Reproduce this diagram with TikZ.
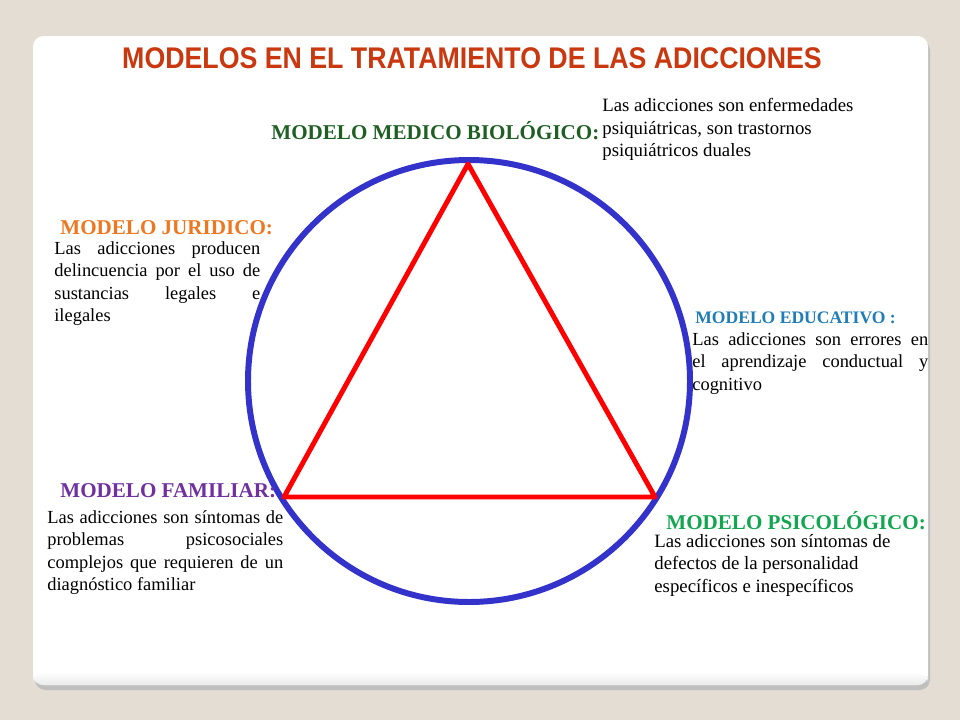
\documentclass[tikz,border=0pt]{standalone}
\usepackage{fontspec}
\setmainfont{Liberation Serif}
\newfontfamily\titlefont[FakeStretch=0.895]{Liberation Sans}
\definecolor{paper}{HTML}{E3DDD3}
\definecolor{titlered}{HTML}{C9380E}
\definecolor{medgreen}{HTML}{1F5F24}
\definecolor{juriorange}{HTML}{EE7720}
\definecolor{edublue}{HTML}{1F7DB8}
\definecolor{fampurple}{HTML}{7030A0}
\definecolor{psigreen}{HTML}{12A650}
\definecolor{ringblue}{HTML}{3333CC}
\newcommand{\nohyphens}{\hyphenpenalty=10000\relax\exhyphenpenalty=10000\relax}
\tikzset{
    model/.style = {font=\bfseries\fontsize{12}{14}\selectfont, inner sep=0pt, anchor=west},
    desc/.style = {font=\fontsize{10.7}{12.8}\selectfont\nohyphens, inner sep=0pt, anchor=north west},
    just/.style = {desc, font=\fontsize{10.5}{12.8}\selectfont\nohyphens, align=justify},
    ring/.style = {draw=ringblue, line width=3.4pt},
    tri/.style = {draw=red, line width=2.8pt, line join=round}
}

\begin{document}
\begin{tikzpicture}[x=0.02cm, y=-0.02cm]
                \fill[paper] (0,0) rectangle (960,720);
                \fill[black!25, rounded corners=6pt] (35,40) rectangle (930,690);
                \fill[white, rounded corners=6pt] (33,36) rectangle (928,685);
                \shade[top color=white, bottom color=black!8, rounded corners=6pt] (33,672) rectangle (928,685);
                \node[font=\titlefont\bfseries\fontsize{17}{20}\selectfont, text=titlered, inner sep=0pt] (title) at (472,58) {MODELOS EN EL TRATAMIENTO DE LAS ADICCIONES};
                % circle and triangle
                \draw[ring] (469,381) circle [radius=221];
                \coordinate (top) at (468,164);
                \coordinate (left) at (284,497);
                \coordinate (right) at (655,497);
                \draw[tri] (top) -- (right) -- (left) -- cycle;
                % models
                \node[model, text=medgreen] (medico) at (271,131) {MODELO MEDICO BIOLÓGICO:};
                \node[desc, align=left] (medicotxt) at (602,98) {Las adicciones son enfermedades\\psiquiátricas, son trastornos\\psiquiátricos duales};
                \node[model, text=juriorange] (juridico) at (60,228) {MODELO JURIDICO:};
                \node[just, text width=4.12cm] (juridicotxt) at (54,241) {Las adicciones producen\linebreak delincuencia por el uso de\linebreak sustancias legales e\linebreak ilegales};
                \node[model, text=edublue, font=\bfseries\fontsize{10}{12}\selectfont] (educativo) at (695,318) {MODELO EDUCATIVO :};
                \node[just, text width=4.72cm] (educativotxt) at (692,332) {Las adicciones son errores en\linebreak el aprendizaje conductual y\linebreak cognitivo};
                \node[model, text=fampurple] (familiar) at (60,491) {MODELO FAMILIAR:};
                \node[just, text width=4.72cm] (familiartxt) at (47,510) {Las adicciones son síntomas de\linebreak problemas psicosociales\linebreak complejos que requieren de un\linebreak diagnóstico familiar};
                \node[model, text=psigreen] (psicologico) at (666,521) {MODELO PSICOLÓGICO:};
                \node[desc, align=left] (psicologicotxt) at (654,534) {Las adicciones son síntomas de\\defectos de la personalidad\\específicos e inespecíficos};
            \end{tikzpicture}
\end{document}
